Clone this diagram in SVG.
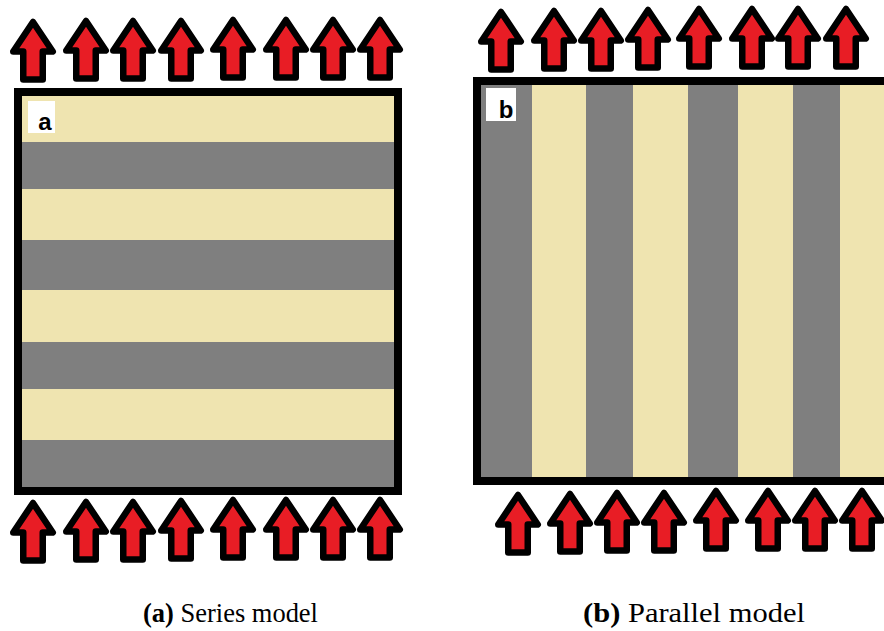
<svg xmlns="http://www.w3.org/2000/svg" xmlns:xlink="http://www.w3.org/1999/xlink" width="884" height="631" viewBox="0 0 884 631">
  <style>
    .tan { fill: #efe4b0; }
    .gray { fill: #7f7f7f; }
    .frame { fill: none; stroke: #000; stroke-width: 8; }
    .tag { fill: #ffffff; }
    .tagtext { font-family: "Liberation Sans", Arial, sans-serif; font-weight: bold; font-size: 24px; fill: #000; }
    .caption { font-family: "Liberation Serif", "Times New Roman", serif; font-size: 27px; fill: #000; }
    .bold { font-weight: bold; }
  </style>
  <defs>
    <!-- block arrow pointing up, tip at (0,0) -->
    <path id="arrow" d="M0,0 L19.75,29.5 L9.75,29.5 L9.75,57.5 L-9.75,57.5 L-9.75,29.5 L-19.75,29.5 Z"
          fill="#e81d25" stroke="#000" stroke-width="6.5" stroke-linejoin="round"/>
  </defs>

  <rect width="884" height="631" fill="#ffffff"/>

  <!-- (a) series model: horizontal layers -->
  <g id="panel-a">
    <rect class="tan"  x="18" y="92"  width="380" height="50"/>
    <rect class="gray" x="18" y="142" width="380" height="47"/>
    <rect class="tan"  x="18" y="189" width="380" height="51"/>
    <rect class="gray" x="18" y="240" width="380" height="50"/>
    <rect class="tan"  x="18" y="290" width="380" height="52"/>
    <rect class="gray" x="18" y="342" width="380" height="47"/>
    <rect class="tan"  x="18" y="389" width="380" height="51"/>
    <rect class="gray" x="18" y="440" width="380" height="51"/>
    <rect class="frame" x="18" y="92" width="380" height="399"/>
    <rect class="tag" x="28" y="101" width="27" height="32"/>
    <text class="tagtext" x="45" y="130" text-anchor="middle">a</text>
  </g>

  <!-- (b) parallel model: vertical layers -->
  <g id="panel-b">
    <rect class="gray" x="477" y="81" width="55" height="400"/>
    <rect class="tan"  x="532" y="81" width="54" height="400"/>
    <rect class="gray" x="586" y="81" width="47" height="400"/>
    <rect class="tan"  x="633" y="81" width="55" height="400"/>
    <rect class="gray" x="688" y="81" width="50" height="400"/>
    <rect class="tan"  x="738" y="81" width="55" height="400"/>
    <rect class="gray" x="793" y="81" width="47" height="400"/>
    <rect class="tan"  x="840" y="81" width="60" height="400"/>
    <rect class="frame" x="477" y="81" width="500" height="400"/>
    <rect class="tag" x="486" y="88" width="30" height="33"/>
    <text class="tagtext" x="506" y="118" text-anchor="middle">b</text>
  </g>

  <!-- heat flux arrows -->
  <g id="arrows-a-top">
    <use xlink:href="#arrow" x="33"  y="22"/>
    <use xlink:href="#arrow" x="86"  y="21"/>
    <use xlink:href="#arrow" x="133" y="21"/>
    <use xlink:href="#arrow" x="181" y="21"/>
    <use xlink:href="#arrow" x="233" y="20"/>
    <use xlink:href="#arrow" x="286" y="20"/>
    <use xlink:href="#arrow" x="333" y="20"/>
    <use xlink:href="#arrow" x="380" y="20"/>
  </g>
  <g id="arrows-a-bottom">
    <use xlink:href="#arrow" x="33"  y="503"/>
    <use xlink:href="#arrow" x="86"  y="502"/>
    <use xlink:href="#arrow" x="133" y="502"/>
    <use xlink:href="#arrow" x="181" y="501"/>
    <use xlink:href="#arrow" x="233" y="500"/>
    <use xlink:href="#arrow" x="286" y="500"/>
    <use xlink:href="#arrow" x="333" y="500"/>
    <use xlink:href="#arrow" x="380" y="500"/>
  </g>
  <g id="arrows-b-top">
    <use xlink:href="#arrow" x="501" y="12"/>
    <use xlink:href="#arrow" x="554" y="11"/>
    <use xlink:href="#arrow" x="601" y="11"/>
    <use xlink:href="#arrow" x="648" y="10"/>
    <use xlink:href="#arrow" x="699" y="9"/>
    <use xlink:href="#arrow" x="752" y="9"/>
    <use xlink:href="#arrow" x="798" y="9"/>
    <use xlink:href="#arrow" x="846" y="9"/>
  </g>
  <g id="arrows-b-bottom">
    <use xlink:href="#arrow" x="518" y="495"/>
    <use xlink:href="#arrow" x="570" y="494"/>
    <use xlink:href="#arrow" x="617" y="493"/>
    <use xlink:href="#arrow" x="664" y="493"/>
    <use xlink:href="#arrow" x="716" y="491"/>
    <use xlink:href="#arrow" x="768" y="491"/>
    <use xlink:href="#arrow" x="815" y="491"/>
    <use xlink:href="#arrow" x="862" y="491"/>
  </g>

  <!-- sub-figure captions -->
  <g id="captions">
    <text class="caption" x="143" y="622" textLength="175" lengthAdjust="spacingAndGlyphs"><tspan class="bold">(a)</tspan> Series model</text>
    <text class="caption" x="583" y="622" textLength="222" lengthAdjust="spacingAndGlyphs"><tspan class="bold">(b)</tspan> Parallel model</text>
  </g>
</svg>
